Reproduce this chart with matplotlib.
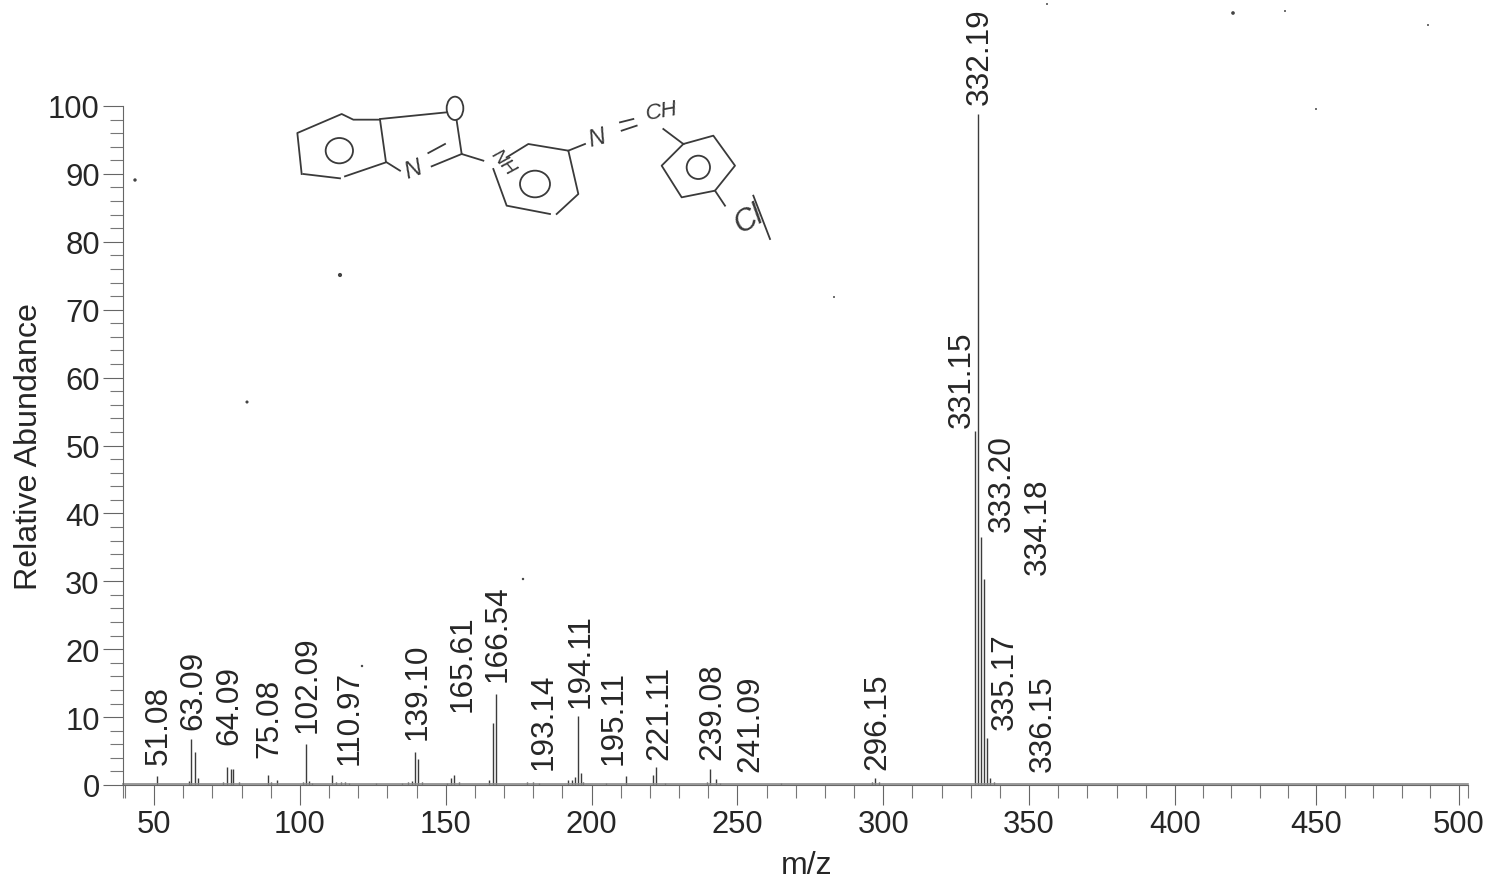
import numpy as np
import matplotlib.pyplot as plt
from matplotlib.patches import Ellipse
from matplotlib.ticker import MultipleLocator

plt.rcParams['font.family'] = ['Liberation Sans', 'DejaVu Sans']

# peaks
peak_mz = [51, 62, 62.7, 64, 65, 73.5, 75, 76.4, 77.2, 79, 89, 90, 92, 101, 102, 103, 104,
           111.1, 112.5, 114, 115.5, 117, 126, 135, 137, 138.5, 139.5, 140.6, 142,
           150.5, 151.8, 153, 154.5, 164.9, 166.3, 167.3, 178, 180, 182, 192, 193.2,
           194.2, 195.2, 196.3, 197, 205, 211.8, 221, 222, 225, 239.5, 240.6, 242.7,
           244, 265, 296, 297, 298.5, 331.5, 332.5, 333.5, 334.6, 335.7, 336.6, 338]
peak_abundance = [1.3, 0.6, 6.8, 4.8, 1.0, 0.4, 2.6, 2.4, 2.4, 0.5, 1.5, 0.4, 0.8, 0.4, 6.1, 0.6, 0.3,
                  1.4, 0.4, 0.5, 0.5, 0.3, 0.3, 0.3, 0.4, 0.6, 4.9, 3.9, 0.5,
                  0.3, 1.1, 1.4, 0.5, 0.8, 9.2, 13.4, 0.5, 0.4, 0.3, 0.7, 0.8,
                  1.2, 10.1, 1.7, 0.4, 0.3, 1.3, 1.5, 2.7, 0.3, 0.5, 2.4, 0.9,
                  0.3, 0.3, 0.5, 1.0, 0.4, 52.1, 98.8, 36.5, 30.3, 6.9, 1.0, 0.4]

peak_labels = ['332.19', '331.15', '333.20', '334.18', '335.17', '336.15', '296.15', '241.09',
               '239.08', '221.11', '195.11', '194.11', '193.14', '166.54', '165.61', '139.10',
               '110.97', '102.09', '75.08', '64.09', '63.09', '51.08']
label_mz = [333.2, 327.0, 340.7, 353.1, 341.7, 354.8, 297.9, 254.3, 241.3, 223.1, 207.7,
            196.1, 183.7, 167.9, 155.9, 140.2, 117.2, 102.5, 89.4, 75.7, 63.4, 51.7]
label_base = [100.3, 52.7, 37.4, 31.1, 8.2, 2.1, 2.4, 2.1, 3.8, 3.8, 3.1,
              11.5, 2.4, 15.3, 10.9, 6.8, 3.1, 7.8, 4.1, 6.0, 8.2, 3.1]

x_ticks = [50, 100, 150, 200, 250, 300, 350, 400, 450, 500]
y_ticks = [0, 10, 20, 30, 40, 50, 60, 70, 80, 90, 100]

# the scan squeezes the right end of the m/z axis
scale_mz = [39.5, 400, 450, 500, 503]
scale_px = [123.4, 1175, 1316, 1459, 1468]

ink = '#262626'
W, H = 1488, 879

fig = plt.figure(figsize=(W / 100, H / 100), dpi=100)
ax = fig.add_axes([scale_px[0] / W, (H - 786) / H, (scale_px[-1] - scale_px[0]) / W, 679 / H])
ax.set_xscale('function', functions=(lambda v: np.interp(v, scale_mz, scale_px),
                                     lambda v: np.interp(v, scale_px, scale_mz)))
ax.set_xlim(scale_mz[0], scale_mz[-1])
ax.set_ylim(0, 100)
ax.patch.set_alpha(0)

ax.vlines(peak_mz, 0, peak_abundance, color='#3c3c3c', lw=1.0)
ax.plot([scale_mz[0], scale_mz[-1]], [0.1, 0.1], color='#8a8a8a', lw=1.2, clip_on=False)

ax.spines['top'].set_visible(False)
ax.spines['right'].set_visible(False)
for side in ['left', 'bottom']:
    ax.spines[side].set_color('#666666')
    ax.spines[side].set_linewidth(0.8)

ax.set_xticks(x_ticks)
ax.set_yticks(y_ticks)
ax.xaxis.set_minor_locator(MultipleLocator(10))
ax.yaxis.set_minor_locator(MultipleLocator(2))
ax.tick_params(which='major', length=14.5, width=0.8, color='#666666', labelsize=22.3,
               labelcolor=ink, pad=3)
ax.tick_params(which='minor', length=9.5, width=0.8, color='#777777')
ax.tick_params(axis='y', which='major', pad=2.5)

ax.set_xlabel('m/z', fontsize=23, color=ink, labelpad=7.5, x=0.508)
ax.set_ylabel('Relative Abundance', fontsize=23.2, color=ink, labelpad=3)

for name, mz, base in zip(peak_labels, label_mz, label_base):
    ax.text(mz, base, name, rotation=90, ha='center', va='bottom', fontsize=22.7, color=ink,
            clip_on=False)

# hand drawn structure, in picture pixels
sk = fig.add_axes([0, 0, 1, 1])
sk.set_xlim(0, W)
sk.set_ylim(H, 0)
sk.axis('off')
sk.patch.set_alpha(0)


def zp(x, y):
    return 280 + x / 3, 80 + y / 3


strokes = [
    [(65, 285), (52, 162), (185, 105), (220, 122), (300, 122), (318, 250), (195, 292)],
    [(70, 285), (180, 298)],
    [(300, 120), (500, 100)],
    [(530, 125), (545, 225), (610, 245)],
    [(545, 225), (455, 262)],
    [(495, 195), (445, 222)],
    [(320, 250), (360, 275)],
    [(640, 270), (680, 380), (810, 405)],
    [(830, 405), (895, 345), (865, 215), (745, 195), (680, 235)],
    [(865, 215), (915, 195)],
    [(1020, 130), (1060, 120)],
    [(1025, 155), (1070, 140)],
    [(1150, 150), (1210, 195), (1300, 170), (1365, 260), (1305, 335), (1205, 355), (1145, 260), (1210, 195)],
    [(1305, 335), (1335, 380)],
    [(1420, 350), (1470, 480)],
]
for stroke in strokes:
    pts = [zp(*p) for p in stroke]
    sk.plot([p[0] for p in pts], [p[1] for p in pts], color='#3a3a3a', lw=1.3)

rings = [(178, 215, 82, 76), (525, 88, 50, 70), (765, 315, 90, 80), (1255, 265, 70, 70)]
for cx, cy, w, h in rings:
    x, y = zp(cx, cy)
    sk.add_patch(Ellipse((x, y), w / 3, h / 3, fill=False, ec='#3a3a3a', lw=1.3))

sketch_text = [('N', 400, 270, 17, 20), ('NH', 668, 250, 14, -50), ('N', 950, 175, 17, 15),
               ('CH', 1145, 95, 16, 10), ('Cl', 1405, 420, 22, 30)]
for s, zx, zy, size, rot in sketch_text:
    x, y = zp(zx, zy)
    sk.text(x, y, s, fontsize=size, rotation=rot, ha='center', va='center', color='#3a3a3a',
            style='italic')

# scan specks
speck_x = [135, 340, 247, 1233, 523, 362, 1316, 834, 1428, 1047, 1285]
speck_y = [181, 276, 403, 14, 580, 667, 110, 298, 26, 5, 12]
sk.scatter(speck_x, speck_y, s=[6, 9, 5, 7, 3, 3, 2, 2, 2, 2, 2], color='#444444', lw=0)

fig.savefig('out.png', dpi=100, facecolor='white')
